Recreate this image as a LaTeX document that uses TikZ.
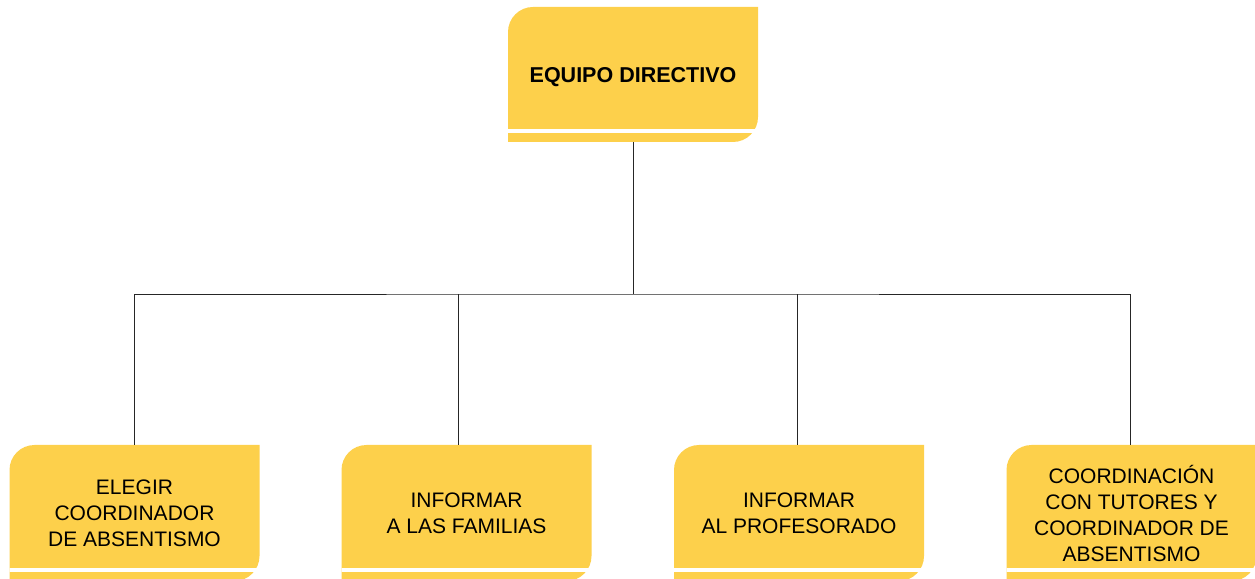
\documentclass[tikz,border=0pt]{standalone}
\usepackage{fontspec}
\setmainfont{Liberation Sans}
\definecolor{boxfill}{RGB}{253,208,75}
\begin{document}
\begin{tikzpicture}[x=1pt,y=1pt,
  orgbox/.style={minimum width=250pt, minimum height=136pt, inner sep=0pt, align=center,
    font=\fontsize{21}{26}\selectfont,
    path picture={
      \fill[boxfill] (path picture bounding box.south west)
        -- ([yshift=-25pt]path picture bounding box.north west)
        arc[start angle=180,end angle=90,radius=25pt]
        -- (path picture bounding box.north east)
        -- ([yshift=25pt]path picture bounding box.south east)
        arc[start angle=0,end angle=-90,radius=25pt] -- cycle;
      \fill[white] ([xshift=-1pt,yshift=9pt]path picture bounding box.south west)
        rectangle ([xshift=1pt,yshift=12.5pt]path picture bounding box.south east);
    }},
  conn/.style={draw=black!85, line width=0.9pt}]
\useasboundingbox (0,0) rectangle (1255,578);
\clip (0,0) rectangle (1255,578);
\node[orgbox, minimum height=135pt, font=\fontsize{21.5}{26}\selectfont\bfseries] (top) at (633,503.5) {\raisebox{-8.5pt}[0pt][0pt]{EQUIPO DIRECTIVO}};
\node[orgbox] (b1) at (134.5,65) {ELEGIR\\COORDINADOR\\DE ABSENTISMO};
\node[orgbox] (b2) at (466.5,65) {INFORMAR\\A LAS FAMILIAS};
\node[orgbox] (b3) at (799,65) {INFORMAR\\AL PROFESORADO};
\node[orgbox] (b4) at (1131.5,65) {COORDINACIÓN\\CON TUTORES Y\\COORDINADOR DE\\ABSENTISMO};
\coordinate (hub) at (633,284);
\draw[conn] (top.south) -- (hub);
\draw[conn] ([xshift=-0.5pt]b1.north) |- (hub) -| ([xshift=-1.5pt]b4.north);
\draw[conn] ([xshift=-8.5pt]b2.north) -- ([xshift=-8.5pt]b2.north |- hub);
\draw[conn] ([xshift=-2pt]b3.north) -- ([xshift=-2pt]b3.north |- hub);
\end{tikzpicture}
\end{document}
